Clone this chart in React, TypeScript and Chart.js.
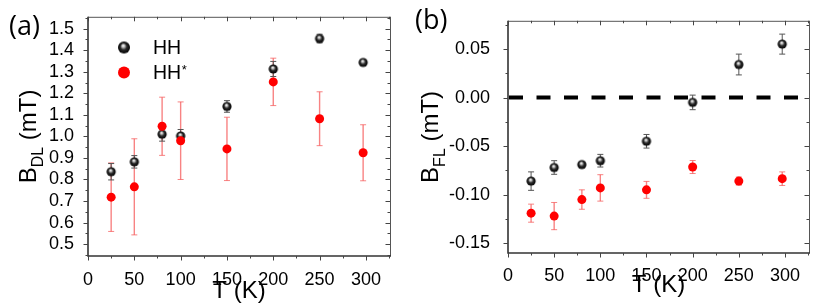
import React, { useEffect, useRef } from 'react';
import { Chart, registerables } from 'chart.js';
Chart.register(...registerables);

// ---- data ----
const temperatures = [25, 50, 80, 100, 150, 200, 250, 297];

const bdlHH = [0.836, 0.882, 1.01, 1.002, 1.139, 1.313, 1.454, 1.343];
const bdlHHErr = [0.038, 0.029, 0.032, 0.03, 0.027, 0.035, 0.02, 0.006];
const bdlHHStar = [0.718, 0.766, 1.047, 0.98, 0.942, 1.253, 1.082, 0.924];
const bdlHHStarErr = [0.159, 0.223, 0.135, 0.18, 0.147, 0.11, 0.125, 0.13];

const bflHH = [-0.086, -0.072, -0.069, -0.065, -0.045, -0.005, 0.034, 0.055];
const bflHHErr = [0.0095, 0.007, 0.002, 0.0065, 0.007, 0.0075, 0.0107, 0.0103];
const bflHHStar = [-0.119, -0.122, -0.105, -0.093, -0.095, -0.0715, -0.086, -0.0835];
const bflHHStarErr = [0.0093, 0.014, 0.01, 0.0136, 0.0087, 0.0067, 0.0042, 0.007];

const xTicks = [0, 50, 100, 150, 200, 250, 300];
const bdlTicks = [0.5, 0.6, 0.7, 0.8, 0.9, 1.0, 1.1, 1.2, 1.3, 1.4, 1.5];
const bflTicks = [-0.15, -0.1, -0.05, 0, 0.05];
const seriesNames = ['HH', 'HH'];

const FONT = "'Liberation Sans', Arial, Helvetica, sans-serif";

function makeSphere(r: number): HTMLCanvasElement {
  const s = Math.ceil(r * 2) + 2;
  const c = document.createElement('canvas');
  c.width = s;
  c.height = s;
  const ctx = c.getContext('2d')!;
  const cx = s / 2, cy = s / 2;
  const g = ctx.createRadialGradient(cx - r * 0.15, cy - r * 0.35, 0, cx, cy, r);
  g.addColorStop(0, '#ffffff');
  g.addColorStop(0.22, '#c8c8c8');
  g.addColorStop(0.55, '#2a2a2a');
  g.addColorStop(1, '#000000');
  ctx.fillStyle = g;
  ctx.beginPath();
  ctx.arc(cx, cy, r, 0, Math.PI * 2);
  ctx.fill();
  return c;
}

const decorPlugin = {
  id: 'decor',
  beforeDatasetsDraw(chart: any, _args: any, opts: any) {
    const { ctx, chartArea: a, scales } = chart;
    const xs = scales.x, ys = scales.y;
    if (opts.zeroLine) {
      ctx.save();
      ctx.beginPath();
      ctx.rect(a.left, a.top, a.right - a.left, a.bottom - a.top);
      ctx.clip();
      ctx.setLineDash([14, 13.5]);
      ctx.lineWidth = 4;
      ctx.strokeStyle = '#000';
      const py = ys.getPixelForValue(0);
      ctx.beginPath();
      ctx.moveTo(a.left + 1, py);
      ctx.lineTo(a.right, py);
      ctx.stroke();
      ctx.restore();
    }
    chart.data.datasets.forEach((ds: any) => {
      const errs = ds.errors;
      if (!errs) return;
      ctx.save();
      ctx.strokeStyle = ds.errorColor;
      ctx.lineWidth = ds.errorWidth;
      ds.data.forEach((p: any, j: number) => {
        const px = xs.getPixelForValue(p.x);
        const top = ys.getPixelForValue(p.y + errs[j]);
        const bot = ys.getPixelForValue(p.y - errs[j]);
        ctx.beginPath();
        ctx.moveTo(px, top);
        ctx.lineTo(px, bot);
        ctx.stroke();
        ctx.lineWidth = 1;
        ctx.beginPath();
        ctx.moveTo(px - 3, top);
        ctx.lineTo(px + 3, top);
        ctx.moveTo(px - 3, bot);
        ctx.lineTo(px + 3, bot);
        ctx.stroke();
        ctx.lineWidth = ds.errorWidth;
      });
      ctx.restore();
    });
  },
  afterDraw(chart: any, _args: any, opts: any) {
    const { ctx, chartArea: a, scales } = chart;
    const xs = scales.x, ys = scales.y;
    ctx.save();
    // frame
    ctx.strokeStyle = '#555';
    ctx.lineWidth = 1;
    ctx.beginPath();
    ctx.moveTo(a.left, a.top + 0.5);
    ctx.lineTo(a.right + 0.5, a.top + 0.5);
    ctx.moveTo(a.right + 0.5, a.top);
    ctx.lineTo(a.right + 0.5, a.bottom);
    ctx.stroke();
    ctx.strokeStyle = '#333';
    ctx.lineWidth = 1.6;
    ctx.beginPath();
    ctx.moveTo(a.left, a.top);
    ctx.lineTo(a.left, a.bottom);
    ctx.lineTo(a.right + 1, a.bottom);
    ctx.stroke();

    // ticks
    ctx.lineWidth = 1;
    ctx.strokeStyle = '#444';
    ctx.beginPath();
    const xMinor = 25;
    for (let v = xs.min; v <= xs.max + 1e-9; v += xMinor) {
      const px = Math.round(xs.getPixelForValue(v)) + 0.5;
      const major = xTicks.some((t) => Math.abs(t - v) < 1e-9);
      const L = major ? 4.5 : 2.5;
      ctx.moveTo(px, a.bottom);
      ctx.lineTo(px, a.bottom + L);
      ctx.moveTo(px, a.top);
      ctx.lineTo(px, a.top + L);
    }
    const yt: number[] = opts.yTicks;
    const step = opts.yMinorStep;
    for (let v = yt[0] - step; v <= yt[yt.length - 1] + step + 1e-9; v += step) {
      if (v < ys.min - 1e-9 || v > ys.max + 1e-9) continue;
      const py = Math.round(ys.getPixelForValue(v)) + 0.5;
      const major = yt.some((t) => Math.abs(t - v) < 1e-6);
      const L = major ? 4.5 : 2.5;
      ctx.moveTo(a.left - L, py);
      ctx.lineTo(a.left, py);
      ctx.moveTo(a.right - L, py);
      ctx.lineTo(a.right, py);
    }
    ctx.stroke();

    ctx.fillStyle = '#000';
    // y title with subscript (rotated)
    ctx.save();
    ctx.translate(opts.yTitleX, (a.top + a.bottom) / 2);
    ctx.rotate(-Math.PI / 2);
    ctx.textBaseline = 'alphabetic';
    const mainF = `24px ${FONT}`;
    const subF = `16px ${FONT}`;
    ctx.font = mainF;
    const w1 = ctx.measureText(opts.yTitleMain).width;
    const w3 = ctx.measureText(opts.yTitleRest).width;
    ctx.font = subF;
    const w2 = ctx.measureText(opts.yTitleSub).width;
    let sx = -(w1 + w2 + w3) / 2;
    ctx.font = mainF;
    ctx.fillText(opts.yTitleMain, sx, 0);
    sx += w1;
    ctx.font = subF;
    ctx.fillText(opts.yTitleSub, sx, 7);
    sx += w2;
    ctx.font = mainF;
    ctx.fillText(opts.yTitleRest, sx, 0);
    ctx.restore();

    // x title
    ctx.font = `24px ${FONT}`;
    ctx.textAlign = 'center';
    ctx.textBaseline = 'alphabetic';
    ctx.fillText('T (K)', (a.left + a.right) / 2, opts.xTitleBaseline);

    // panel label
    ctx.font = `27px 'Open Sans', ${FONT}`;
    ctx.textAlign = 'left';
    ctx.fillText(opts.panelLabel, opts.panelLabelX, opts.panelLabelBaseline);

    // legend
    if (opts.legend) {
      const sph = makeSphere(6);
      ctx.drawImage(sph, 124 - sph.width / 2, 47.5 - sph.height / 2);
      ctx.fillStyle = '#ff0000';
      ctx.beginPath();
      ctx.arc(124, 72.5, 6, 0, Math.PI * 2);
      ctx.fill();
      ctx.fillStyle = '#000';
      ctx.font = `19.5px ${FONT}`;
      ctx.fillText(seriesNames[0], 153, 54);
      ctx.fillText(seriesNames[1], 153, 79);
      const hw = ctx.measureText(seriesNames[1]).width;
      ctx.font = `13px ${FONT}`;
      ctx.fillText('*', 153 + hw + 0.5, 74);
    }
    ctx.restore();
  },
};

interface PanelProps {
  hh: number[];
  hhErr: number[];
  star: number[];
  starErr: number[];
  yMin: number;
  yMax: number;
  yTicks: number[];
  yDecimals: number;
  area: { left: number; right: number; top: number; bottom: number };
  yLabelPad: number;
  xLabelPad: number;
  decor: any;
}

const W = 415;
const H = 307;

function Panel(p: PanelProps) {
  const ref = useRef<HTMLCanvasElement>(null);
  useEffect(() => {
    const canvas = ref.current!;
    const sphere = makeSphere(4.6);
    const chart = new Chart(canvas, {
      type: 'scatter',
      data: {
        datasets: [
          {
            label: 'HH*',
            data: temperatures.map((t, i) => ({ x: t, y: p.star[i] })),
            pointStyle: 'circle',
            pointRadius: 4.5,
            backgroundColor: '#ff0000',
            borderWidth: 0,
            errors: p.starErr,
            errorColor: 'rgba(245,90,90,0.75)',
            errorWidth: 1.4,
          } as any,
          {
            label: 'HH',
            data: temperatures.map((t, i) => ({ x: t, y: p.hh[i] })),
            pointStyle: sphere,
            pointRadius: 4.6,
            backgroundColor: '#000',
            borderWidth: 0,
            errors: p.hhErr,
            errorColor: '#555',
            errorWidth: 1,
          } as any,
        ],
      },
      options: {
        animation: false,
        responsive: false,
        devicePixelRatio: 1,
        layout: {
          padding: { left: 0, top: p.area.top, right: W - p.area.right, bottom: 0 },
        },
        plugins: {
          legend: { display: false },
          tooltip: { enabled: false },
          decor: p.decor,
        } as any,
        scales: {
          x: {
            type: 'linear',
            min: 0,
            max: 326,
            grid: { display: false },
            border: { display: false },
            afterBuildTicks: (s: any) => {
              s.ticks = xTicks.map((v) => ({ value: v }));
            },
            afterFit: (s: any) => {
              s.height = H - p.area.bottom;
            },
            ticks: {
              autoSkip: false,
              padding: p.xLabelPad,
              color: '#000',
              font: { family: FONT, size: 18 },
              maxRotation: 0,
              callback: (v: any) => String(v),
            },
          },
          y: {
            type: 'linear',
            min: p.yMin,
            max: p.yMax,
            grid: { display: false },
            border: { display: false },
            afterBuildTicks: (s: any) => {
              s.ticks = p.yTicks.map((v) => ({ value: v }));
            },
            afterFit: (s: any) => {
              s.width = p.area.left;
            },
            ticks: {
              autoSkip: false,
              padding: p.yLabelPad,
              color: '#000',
              font: { family: FONT, size: 18 },
              callback: (v: any) => Number(v).toFixed(p.yDecimals),
            },
          },
        },
      },
      plugins: [decorPlugin],
    });
    return () => chart.destroy();
  }, []);
  return <canvas ref={ref} width={W} height={H} style={{ display: 'block', width: W, height: H }} />;
}

export default function App() {
  return (
    <div
      style={{
        position: 'absolute',
        left: 0,
        top: 0,
        width: 830,
        height: 307,
        display: 'flex',
        background: '#fff',
      }}
    >
      <Panel
        hh={bdlHH}
        hhErr={bdlHHErr}
        star={bdlHHStar}
        starErr={bdlHHStarErr}
        yMin={0.445}
        yMax={1.555}
        yTicks={bdlTicks}
        yDecimals={1}
        area={{ left: 88, right: 390, top: 12, bottom: 256 }}
        yLabelPad={6}
        xLabelPad={5}
        decor={{
          yTicks: bdlTicks,
          yMinorStep: 0.05,
          yTitleMain: 'B',
          yTitleSub: 'DL',
          yTitleRest: ' (mT)',
          yTitleX: 36,
          xTitleBaseline: 298,
          panelLabel: '(a)',
          panelLabelX: 9,
          panelLabelBaseline: 35,
          legend: true,
          zeroLine: false,
        }}
      />
      <Panel
        hh={bflHH}
        hhErr={bflHHErr}
        star={bflHHStar}
        starErr={bflHHStarErr}
        yMin={-0.16}
        yMax={0.079}
        yTicks={bflTicks}
        yDecimals={2}
        area={{ left: 93, right: 394, top: 13, bottom: 253 }}
        yLabelPad={10}
        xLabelPad={4}
        decor={{
          yTicks: bflTicks,
          yMinorStep: 0.025,
          yTitleMain: 'B',
          yTitleSub: 'FL',
          yTitleRest: ' (mT)',
          yTitleX: 23,
          xTitleBaseline: 292,
          panelLabel: '(b)',
          panelLabelX: 0,
          panelLabelBaseline: 29,
          legend: false,
          zeroLine: true,
        }}
      />
    </div>
  );
}
